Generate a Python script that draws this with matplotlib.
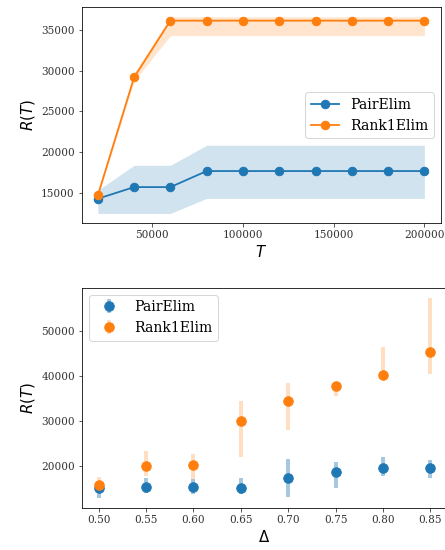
import matplotlib
matplotlib.use("Agg")
import matplotlib.pyplot as plt
import numpy as np

# ---- data: top panel ----
T = [20000, 40000, 60000, 80000, 100000, 120000, 140000, 160000, 180000, 200000]
pair_mean = [14260, 15690, 15690, 17660, 17660, 17660, 17660, 17660, 17660, 17660]
pair_lo = [12450, 12450, 12450, 14300, 14300, 14300, 14300, 14300, 14300, 14300]
pair_hi = [15300, 18360, 18360, 20830, 20830, 20830, 20830, 20830, 20830, 20830]
rank_mean = [14670, 29160, 36130, 36130, 36130, 36130, 36130, 36130, 36130, 36130]
rank_lo = [14450, 28700, 34290, 34290, 34290, 34290, 34290, 34290, 34290, 34290]
rank_hi = [14900, 29700, 36600, 36600, 36600, 36600, 36600, 36600, 36600, 36600]

# ---- data: bottom panel ----
delta = [0.50, 0.55, 0.60, 0.65, 0.70, 0.75, 0.80, 0.85]
pair_d = [15070, 15440, 15440, 15070, 17280, 18760, 19650, 19650]
pair_d_lo = [13000, 14110, 13740, 13740, 13150, 15070, 17790, 17430]
pair_d_hi = [16690, 17280, 17060, 17280, 21700, 20970, 22080, 21330]
rank_d = [15800, 20000, 20370, 29950, 34380, 37850, 40130, 45300]
rank_d_lo = [14110, 17790, 17060, 22080, 28120, 35480, 39900, 40500]
rank_d_hi = [17650, 23320, 22810, 34380, 38440, 38440, 46540, 57400]

labels = ["PairElim", "Rank1Elim"]
c_blue = "#1f77b4"
c_orange = "#ff7f0e"

plt.rcParams["font.family"] = ["DejaVu Serif"]
plt.rcParams["mathtext.fontset"] = "dejavusans"
plt.rcParams["xtick.labelsize"] = 10.5
plt.rcParams["ytick.labelsize"] = 10.5
plt.rcParams["xtick.color"] = "#333333"
plt.rcParams["ytick.color"] = "#333333"

W, H = 445, 550
fig = plt.figure(figsize=(W / 72, H / 72), dpi=72)

# top axes
ax1 = fig.add_axes([81.5 / W, (H - 223.3) / H, (440.7 - 81.5) / W, (223.3 - 7) / H])
ax1.plot(T, pair_mean, "-o", color=c_blue, ms=8.5, lw=1.8, label=labels[0])
ax1.fill_between(T, pair_lo, pair_hi, color=c_blue, alpha=0.2, lw=0)
ax1.plot(T, rank_mean, "-o", color=c_orange, ms=8.5, lw=1.8, label=labels[1])
ax1.fill_between(T, rank_lo, rank_hi, color=c_orange, alpha=0.2, lw=0)
ax1.set_xlabel("$T$", fontsize=15)
ax1.set_ylabel("$R(T)$", fontsize=15)
ax1.set_xticks([50000, 100000, 150000, 200000])
ax1.set_yticks([15000, 20000, 25000, 30000, 35000])
ax1.legend(loc="center right", fontsize=14)

# bottom axes
ax2 = fig.add_axes([82 / W, (H - 507.7) / H, (447 - 82) / W, (507.7 - 287.7) / H])
pm = np.array(pair_d)
rm = np.array(rank_d)
ax2.errorbar(delta, pm, yerr=[pm - np.array(pair_d_lo), np.array(pair_d_hi) - pm],
             fmt="o", color=c_blue, ms=9.5, elinewidth=4, ecolor=(0.122, 0.467, 0.706, 0.4),
             label=labels[0])
ax2.errorbar(delta, rm, yerr=[rm - np.array(rank_d_lo), np.array(rank_d_hi) - rm],
             fmt="o", color=c_orange, ms=9.5, elinewidth=4, ecolor=(1.0, 0.498, 0.055, 0.25),
             label=labels[1])
ax2.set_xlabel(r"$\Delta$", fontsize=15)
ax2.set_ylabel("$R(T)$", fontsize=15)
ax2.set_xticks(delta)
ax2.set_xticklabels([f"{d:.2f}" for d in delta])
ax2.set_yticks([20000, 30000, 40000, 50000])
ax2.legend(loc="upper left", fontsize=14)

fig.savefig("out.png", dpi=72)
